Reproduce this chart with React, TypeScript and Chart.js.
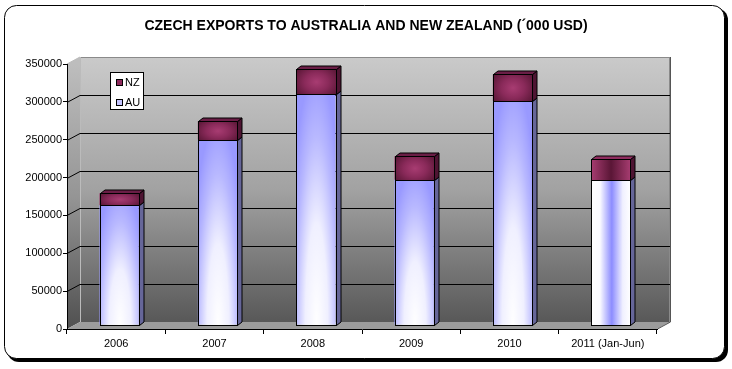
import React, { useEffect, useRef } from 'react';
import { Chart, registerables } from 'chart.js';

Chart.register(...registerables);

const TITLE = 'CZECH EXPORTS TO AUSTRALIA AND NEW ZEALAND (´000 USD)';
const categories = ['2006', '2007', '2008', '2009', '2010', '2011 (Jan-Jun)'];
const auValues = [158000, 245000, 305000, 192000, 296000, 192000];
const nzValues = [16000, 24000, 33000, 31000, 35000, 27000];
const yMax = 350000;
const yStep = 50000;
const seriesNames = ['AU', 'NZ'];
const seriesColors = ['#9999FF', '#993366'];

const FONT = '"Liberation Sans", Arial, sans-serif';
const WALL_DX = 13;
const WALL_DY = 7;
const BAR_DX = 3;
const BAR_DY = 4;
const DEP_X = 4.5;
const DEP_Y = 3.5;

function roundRectPath(ctx: CanvasRenderingContext2D, x: number, y: number, w: number, h: number, r: number) {
  ctx.beginPath();
  ctx.moveTo(x + r, y);
  ctx.lineTo(x + w - r, y);
  ctx.arcTo(x + w, y, x + w, y + r, r);
  ctx.lineTo(x + w, y + h - r);
  ctx.arcTo(x + w, y + h, x + w - r, y + h, r);
  ctx.lineTo(x + r, y + h);
  ctx.arcTo(x, y + h, x, y + h - r, r);
  ctx.lineTo(x, y + r);
  ctx.arcTo(x, y, x + r, y, r);
  ctx.closePath();
}

function poly(ctx: CanvasRenderingContext2D, pts: number[][], fill: string | CanvasGradient, stroke?: string) {
  ctx.beginPath();
  ctx.moveTo(pts[0][0], pts[0][1]);
  for (let i = 1; i < pts.length; i++) ctx.lineTo(pts[i][0], pts[i][1]);
  ctx.closePath();
  ctx.fillStyle = fill;
  ctx.fill();
  if (stroke) {
    ctx.strokeStyle = stroke;
    ctx.lineWidth = 1;
    ctx.stroke();
  }
}

const decorPlugin = {
  id: 'decor',
  beforeDraw(chart: any) {
    const ctx: CanvasRenderingContext2D = chart.ctx;
    const ca = chart.chartArea;
    const ys = chart.scales.y;
    ctx.save();
    ctx.fillStyle = '#FFFFFF';
    ctx.fillRect(0, 0, chart.width, chart.height);
    // frame with shadow
    roundRectPath(ctx, 7, 8, 721, 354, 12);
    ctx.fillStyle = '#000';
    ctx.fill();
    roundRectPath(ctx, 4.5, 5.5, 720, 353, 12);
    ctx.fillStyle = '#FFF';
    ctx.fill();
    ctx.strokeStyle = '#000';
    ctx.lineWidth = 1;
    ctx.stroke();
    // title
    ctx.fillStyle = '#000';
    ctx.font = 'bold 14px ' + FONT;
    ctx.textAlign = 'center';
    ctx.textBaseline = 'middle';
    ctx.fillText(TITLE, 366, 26);

    const L = ca.left, R = ca.right, T = ca.top, B = ca.bottom;
    const x0 = L + WALL_DX, x1 = R + 13, y0 = T - WALL_DY, y1 = B - WALL_DY;
    // back wall
    const g = ctx.createLinearGradient(0, y0, 0, y1);
    g.addColorStop(0, '#CACACA');
    g.addColorStop(0.5, '#A2A2A2');
    g.addColorStop(1, '#585858');
    ctx.fillStyle = g;
    ctx.fillRect(x0, y0, x1 - x0, y1 - y0);
    ctx.strokeStyle = '#8A8A8A';
    ctx.strokeRect(x0 + 0.5, y0 + 0.5, x1 - x0 - 1, y1 - y0);
    // left wall
    const g2 = ctx.createLinearGradient(0, T, 0, B);
    g2.addColorStop(0, '#BDBDBD');
    g2.addColorStop(0.5, '#959595');
    g2.addColorStop(1, '#505050');
    poly(ctx, [[L, T], [x0, y0], [x0, y1], [L, B]], g2);
    // floor
    poly(ctx, [[L, B], [x0, y1], [x1, y1], [R, B]], '#9C9C9C');
    ctx.strokeStyle = '#555';
    ctx.beginPath();
    ctx.moveTo(R + 0.5, B);
    ctx.lineTo(x1 + 0.5, y1);
    ctx.lineTo(x1 + 0.5, y0);
    ctx.stroke();
    ctx.strokeStyle = '#BBBBBB';
    ctx.beginPath();
    ctx.moveTo(x0 + 0.5, y0);
    ctx.lineTo(x0 + 0.5, y1);
    ctx.moveTo(L, T);
    ctx.lineTo(x0, y0);
    ctx.stroke();
    // gridlines
    ctx.strokeStyle = '#000';
    ctx.lineWidth = 1;
    for (let v = yStep; v < yMax; v += yStep) {
      const yy = Math.round(ys.getPixelForValue(v)) + 0.5;
      ctx.beginPath();
      ctx.moveTo(L, yy);
      ctx.lineTo(x0, yy - WALL_DY);
      ctx.lineTo(x1, yy - WALL_DY);
      ctx.stroke();
    }
    ctx.restore();
  },
  beforeDatasetsDraw(chart: any) {
    chart.ctx.save();
    chart.ctx.translate(BAR_DX, -BAR_DY);
  },
  afterDatasetsDraw(chart: any) {
    const ctx: CanvasRenderingContext2D = chart.ctx;
    const au = chart.getDatasetMeta(0).data;
    const nz = chart.getDatasetMeta(1).data;
    const last = categories.length - 1;
    for (let i = 0; i < au.length; i++) {
      const a = au[i].getProps(['x', 'y', 'base', 'width'], true);
      const n = nz[i].getProps(['x', 'y', 'base', 'width'], true);
      const l = Math.round(a.x - a.width / 2) + 0.5;
      const r = Math.round(a.x + a.width / 2) + 0.5;
      const w = r - l;
      const aTop = Math.round(a.y) + 0.5;
      const base = Math.round(a.base) + 0.5;
      const nTop = Math.round(n.y) + 0.5;
      const cx = (l + r) / 2;
      // AU face shading
      ctx.save();
      ctx.beginPath();
      ctx.rect(l, aTop, w, base - aTop);
      ctx.clip();
      if (i === last) {
        const lg = ctx.createLinearGradient(l, 0, r, 0);
        lg.addColorStop(0, '#FFFFFF');
        lg.addColorStop(0.22, '#FAFAFF');
        lg.addColorStop(0.52, '#8C8CFF');
        lg.addColorStop(0.8, '#F0F0FF');
        lg.addColorStop(1, '#FFFFFF');
        ctx.fillStyle = lg;
        ctx.fillRect(l, aTop, w, base - aTop);
      } else {
        const h = base - aTop;
        ctx.translate(cx, base);
        ctx.scale(w * 0.7, Math.max(h * 1.1, 140));
        const rg = ctx.createRadialGradient(0, 0, 0, 0, 0, 1);
        rg.addColorStop(0, 'rgba(255,255,255,1)');
        rg.addColorStop(0.4, 'rgba(255,255,255,0.85)');
        rg.addColorStop(0.75, 'rgba(255,255,255,0.3)');
        rg.addColorStop(1, 'rgba(255,255,255,0)');
        ctx.fillStyle = rg;
        ctx.fillRect(-1.2, -1.2, 2.4, 1.3);
      }
      ctx.restore();
      // NZ face shading
      ctx.save();
      ctx.beginPath();
      ctx.rect(l, nTop, w, aTop - nTop);
      ctx.clip();
      if (i === last) {
        const lg = ctx.createLinearGradient(l, 0, r, 0);
        lg.addColorStop(0, '#A63C70');
        lg.addColorStop(0.5, '#5A1636');
        lg.addColorStop(1, '#A63C70');
        ctx.fillStyle = lg;
        ctx.fillRect(l, nTop, w, aTop - nTop);
      } else {
        const h = aTop - nTop;
        ctx.translate(cx, (nTop + aTop) / 2);
        ctx.scale(w * 0.6, h * 0.75);
        const rg = ctx.createRadialGradient(0, 0, 0, 0, 0, 1);
        rg.addColorStop(0, '#A83C72');
        rg.addColorStop(0.5, '#8A2A5A');
        rg.addColorStop(1, '#5C1838');
        ctx.fillStyle = rg;
        ctx.fillRect(-2, -2, 4, 4);
      }
      ctx.restore();
      // outlines of faces
      ctx.strokeStyle = '#000';
      ctx.lineWidth = 1;
      ctx.strokeRect(l, nTop, w, base - nTop);
      ctx.beginPath();
      ctx.moveTo(l, aTop);
      ctx.lineTo(r, aTop);
      ctx.stroke();
      // side faces
      poly(ctx, [[r, aTop], [r + DEP_X, aTop - DEP_Y], [r + DEP_X, base - DEP_Y], [r, base]], '#666699', '#000');
      poly(ctx, [[r, nTop], [r + DEP_X, nTop - DEP_Y], [r + DEP_X, aTop - DEP_Y], [r, aTop]], '#4E1432', '#000');
      poly(ctx, [[l, nTop], [l + DEP_X, nTop - DEP_Y], [r + DEP_X, nTop - DEP_Y], [r, nTop]], i === last ? '#8E2C5E' : '#6A1E46', '#000');
    }
    ctx.restore();
  },
  afterDraw(chart: any) {
    const ctx: CanvasRenderingContext2D = chart.ctx;
    ctx.save();
    ctx.fillStyle = '#FFF';
    ctx.strokeStyle = '#000';
    ctx.lineWidth = 1;
    ctx.fillRect(110.5, 72.5, 33, 37);
    ctx.strokeRect(110.5, 72.5, 33, 37);
    ctx.font = '11px ' + FONT;
    ctx.textAlign = 'left';
    ctx.textBaseline = 'middle';
    const entries = [
      { name: seriesNames[1], color: '#8E2A5C', y: 79 },
      { name: seriesNames[0], color: '#C4C4FF', y: 99 },
    ];
    for (const e of entries) {
      ctx.fillStyle = e.color;
      ctx.fillRect(116.5, e.y + 0.5, 6, 6);
      ctx.strokeRect(116.5, e.y + 0.5, 6, 6);
      ctx.fillStyle = '#000';
      ctx.fillText(e.name, 125, e.y + 4);
    }
    ctx.restore();
  },
};

export default function App() {
  const ref = useRef<HTMLCanvasElement | null>(null);
  useEffect(() => {
    document.body.style.margin = '0';
    const canvas = ref.current;
    if (!canvas) return;
    const chart = new Chart(canvas, {
      type: 'bar',
      data: {
        labels: categories,
        datasets: [
          {
            label: seriesNames[0],
            data: auValues,
            backgroundColor: seriesColors[0],
            borderColor: '#000',
            borderWidth: 0,
            barPercentage: 0.4,
            categoryPercentage: 1,
          },
          {
            label: seriesNames[1],
            data: nzValues,
            backgroundColor: seriesColors[1],
            borderColor: '#000',
            borderWidth: 0,
            barPercentage: 0.4,
            categoryPercentage: 1,
          },
        ],
      },
      options: {
        responsive: false,
        animation: false,
        devicePixelRatio: 1,
        layout: { padding: { left: 8, top: 64, right: 75, bottom: 10 } },
        plugins: {
          legend: { display: false },
          tooltip: { enabled: false },
          title: { display: false },
        },
        scales: {
          x: {
            stacked: true,
            offset: true,
            grid: {
              display: true,
              drawOnChartArea: false,
              drawTicks: true,
              tickLength: 5,
              color: '#000',
              offset: true,
            },
            border: { display: true, color: '#000', width: 1 },
            ticks: {
              color: '#000',
              font: { family: FONT, size: 11 },
              padding: 3,
              maxRotation: 0,
              autoSkip: false,
            },
            afterFit: (s: any) => {
              s.height = 30;
            },
          },
          y: {
            stacked: true,
            min: 0,
            max: yMax,
            grid: {
              display: true,
              drawOnChartArea: false,
              drawTicks: true,
              tickLength: 4,
              color: '#000',
            },
            border: { display: true, color: '#000', width: 1 },
            ticks: {
              stepSize: yStep,
              color: '#000',
              font: { family: FONT, size: 11 },
              padding: 1,
              callback: (v: any) => String(v),
            },
            afterFit: (s: any) => {
              s.width = 59;
            },
          },
        },
      },
      plugins: [decorPlugin],
    });
    return () => chart.destroy();
  }, []);
  return <canvas ref={ref} width={732} height={369} style={{ display: 'block' }} />;
}
